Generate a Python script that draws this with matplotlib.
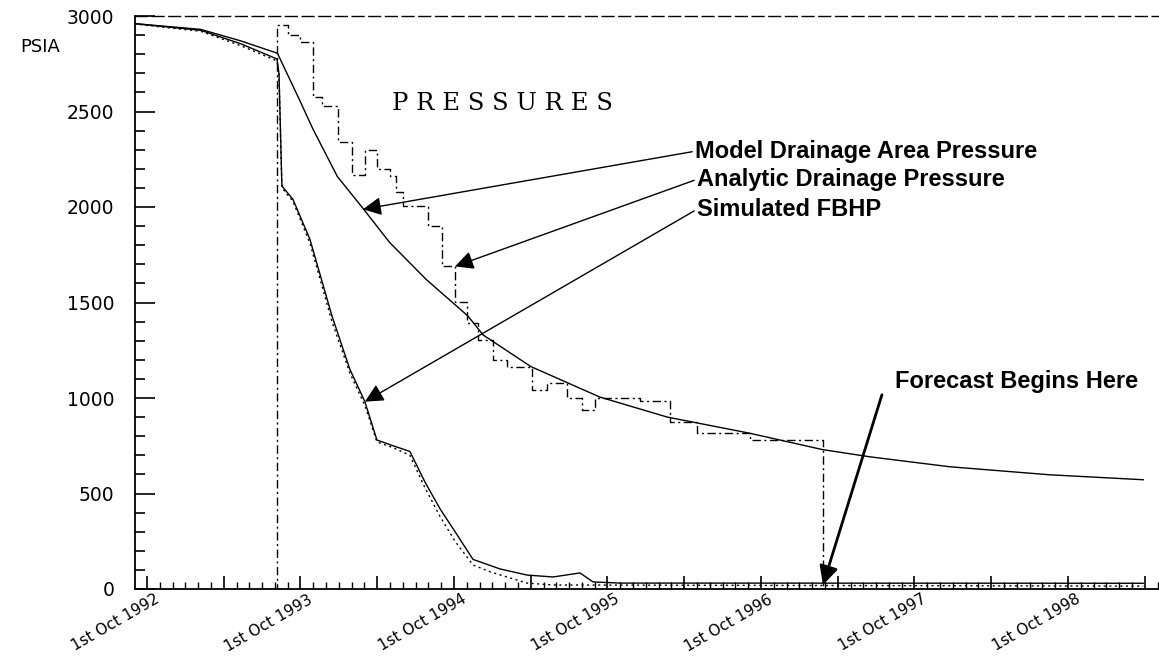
import matplotlib
matplotlib.use('Agg')
import matplotlib.pyplot as plt
import matplotlib.transforms as mtransforms

# x values are decimal years (1992.75 = 1st Oct 1992), y values in psia
model_yr = [1992.67, 1993.10, 1993.36, 1993.60, 1993.75, 1993.83, 1993.99, 1994.16,
            1994.33, 1994.57, 1994.84, 1994.94, 1995.25, 1995.70, 1996.14, 1996.68,
            1997.15, 1997.46, 1997.98, 1998.63, 1999.24]
model_psi = [2960, 2930, 2870, 2805, 2550, 2410, 2160, 1990,
             1815, 1620, 1430, 1330, 1165, 1005, 900, 815,
             730, 692, 640, 598, 572]

# analytic drainage pressure (step curve, dash-dot)
step_yr = [1992.67, 1993.597, 1993.669, 1993.747, 1993.831, 1993.890, 1993.994,
           1994.086, 1994.170, 1994.248, 1994.333, 1994.372, 1994.418, 1994.581,
           1994.672, 1994.757, 1994.835, 1994.906, 1995.004, 1995.095, 1995.258,
           1995.356, 1995.486, 1995.584, 1995.669, 1995.962, 1996.157, 1996.333,
           1996.678, 1997.154, 1999.30]
step_psi = [0, 2953, 2900, 2865, 2575, 2530, 2340,
            2170, 2300, 2200, 2160, 2077, 2005, 1900,
            1690, 1505, 1395, 1306, 1200, 1164, 1044,
            1080, 1002, 939, 1002, 985, 876, 815,
            780, 0, 0]

# simulated FBHP (solid)
fbhp_yr = [1992.67, 1993.10, 1993.36, 1993.597, 1993.610, 1993.629, 1993.701,
           1993.812, 1993.955, 1994.072, 1994.170, 1994.248, 1994.353, 1994.463,
           1994.561, 1994.659, 1994.757, 1994.874, 1995.050, 1995.226, 1995.395,
           1995.571, 1995.656, 1995.831, 1999.24]
fbhp_psi = [2960, 2925, 2855, 2775, 2700, 2110, 2040,
            1830, 1430, 1150, 980, 780, 750, 720,
            560, 420, 300, 155, 105, 73, 63,
            84, 37, 31, 30]

# analytic FBHP (dotted)
fbhp2_yr = [1992.67, 1993.10, 1993.36, 1993.597, 1993.610, 1993.629, 1993.701,
            1993.812, 1993.955, 1994.072, 1994.170, 1994.248, 1994.353, 1994.463,
            1994.561, 1994.659, 1994.757, 1994.874, 1994.985, 1995.095, 1995.226,
            1995.395, 1999.24]
fbhp2_psi = [2958, 2920, 2845, 2765, 2690, 2100, 2030,
             1810, 1400, 1130, 960, 770, 740, 700,
             530, 380, 250, 126, 90, 63, 31,
             21, 15]

year_labels = ['1st Oct 1992', '1st Oct 1993', '1st Oct 1994', '1st Oct 1995',
               '1st Oct 1996', '1st Oct 1997', '1st Oct 1998']

fig = plt.figure(figsize=(11.59, 6.61), dpi=100)
ax = fig.add_axes([135 / 1159, 72 / 661, 1024 / 1159, 573 / 661])

lw = 1.0
ax.plot(model_yr, model_psi, color='black', lw=lw)
ax.plot(step_yr, step_psi, color='black', lw=lw, drawstyle='steps-post',
        linestyle=(0, (6, 2.5, 1.5, 2.5)))
ax.plot(fbhp_yr, fbhp_psi, color='black', lw=lw)
ax.plot(fbhp2_yr, fbhp2_psi, color='black', lw=lw, linestyle=(0, (1.5, 2.5)))

ax.set_xlim(1992.672, 1999.343)
ax.set_ylim(0, 3000)

# axes look
ax.spines['right'].set_visible(False)
ax.spines['top'].set_linestyle((0, (8.5, 3.5)))
ax.spines['top'].set_linewidth(1.0)
ax.spines['left'].set_linewidth(1.3)
ax.spines['bottom'].set_linewidth(1.3)

ax.set_yticks([0, 500, 1000, 1500, 2000, 2500, 3000])
ax.set_yticks(range(0, 3001, 100), minor=True)
half_years = [1992.75 + 0.5 * k for k in range(14)]
ax.set_xticks(half_years)
ax.set_xticklabels([year_labels[k // 2] if k % 2 == 0 else '' for k in range(14)])
ax.set_xticks([1992.75 + k / 12 for k in range(80)], minor=True)

ax.tick_params(axis='y', which='major', direction='in', length=14.5, width=1.2,
               pad=15, labelsize=13.5)
ax.tick_params(axis='y', which='minor', direction='in', length=7, width=1.2)
ax.tick_params(axis='x', which='major', direction='in', length=9.5, width=1.2,
               pad=2, labelsize=11)
ax.tick_params(axis='x', which='minor', direction='in', length=5, width=1.0)

offset = mtransforms.ScaledTranslation(7 / 100, 0, fig.dpi_scale_trans)
for lab in ax.get_xticklabels():
    lab.set_rotation(30)
    lab.set_ha('right')
    lab.set_va('top')
    lab.set_rotation_mode('anchor')
    lab.set_transform(lab.get_transform() + offset)

fig.text(20 / 1159, 1 - 47 / 661, 'PSIA', fontsize=13, va='center', ha='left')
ax.text(1994.346, 2540, 'P R E S S U R E S', family='DejaVu Serif', fontsize=17.5,
        va='center', ha='left')

bold = dict(family='Liberation Sans', fontweight='bold', fontsize=17)
arrow = dict(arrowstyle='-|>', color='black', lw=1.0, mutation_scale=28,
             shrinkA=0, shrinkB=0, relpos=(0, 0.5))
ax.annotate('Model Drainage Area Pressure', xy=(1994.157, 1988),
            xytext=(1996.32, 2292), va='center', ha='left', arrowprops=arrow, **bold)
ax.annotate('Analytic Drainage Pressure', xy=(1994.757, 1689),
            xytext=(1996.333, 2145), va='center', ha='left', arrowprops=arrow, **bold)
ax.annotate('Simulated FBHP', xy=(1994.170, 981),
            xytext=(1996.333, 1988), va='center', ha='left', arrowprops=arrow, **bold)
ax.annotate('', xy=(1997.154, 21), xytext=(1997.538, 1017),
            arrowprops=dict(arrow, lw=2.0))
ax.text(1997.623, 1086, 'Forecast Begins Here', va='center', ha='left', **bold)

fig.savefig('out.png', dpi=100)
